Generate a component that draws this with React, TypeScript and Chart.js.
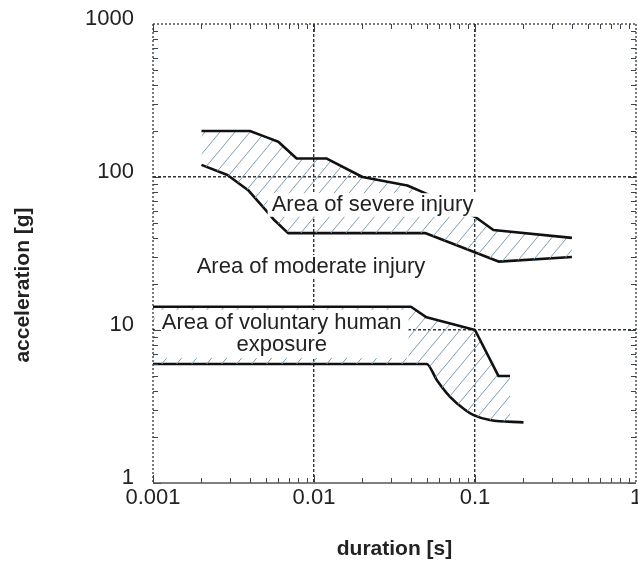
import React, { useEffect, useRef } from 'react';
import { Chart, registerables } from 'chart.js';

Chart.register(...registerables);

// ---- data ----
const xTickValues = [0.001, 0.01, 0.1, 1];
const yTickValues = [1, 10, 100, 1000];

const severeUpperX = [0.002, 0.004, 0.005, 0.006, 0.0078, 0.012, 0.02, 0.026, 0.038, 0.051, 0.1, 0.13, 0.4];
const severeUpperY = [200, 200, 183, 170, 132, 132, 100, 95, 88, 77, 55, 45, 40];

const severeLowerX = [0.002, 0.0029, 0.0039, 0.005, 0.0056, 0.0069, 0.049, 0.14, 0.4];
const severeLowerY = [120, 103, 82, 61, 53, 43, 43, 28, 30];

const voluntaryUpperX = [0.001, 0.04, 0.05, 0.1, 0.14, 0.165];
const voluntaryUpperY = [14.2, 14.2, 12.1, 10, 5, 5];

const voluntaryLowerX = [0.001, 0.05, 0.058, 0.07, 0.087, 0.098, 0.124, 0.2];
const voluntaryLowerY = [6, 6, 4.7, 3.66, 3.0, 2.78, 2.58, 2.49];

const xTitle = 'duration [s]';
const yTitle = 'acceleration [g]';

const severeLabel = ['Area of severe injury'];
const moderateLabel = ['Area of moderate injury'];
const voluntaryLabel = ['Area of voluntary human', 'exposure'];

// ---- styling / placement ----
const FONT = "'Liberation Sans', Arial, Helvetica, sans-serif";
const LINE_COLOR = '#111111';
const TEXT_COLOR = '#222222';

const labelPlacements = [
  { lines: severeLabel, x: 0.0231, y: 65.6, padX: 4, padY: 1 },
  { lines: moderateLabel, x: 0.00958, y: 25.9, padX: 4, padY: 1 },
  { lines: voluntaryLabel, x: 0.0063, y: 9.42, padX: 7, padY: 2.5 },
];

const toPoints = (xs: number[], ys: number[]) => xs.map((x, i) => ({ x, y: ys[i] }));

function makeHatch(): CanvasPattern | string {
  const w = 15;
  const h = 18;
  const c = document.createElement('canvas');
  c.width = w;
  c.height = h;
  const g = c.getContext('2d');
  if (!g) return 'rgba(120,150,170,0.3)';
  g.strokeStyle = '#7f9db0';
  g.lineWidth = 1;
  for (let k = -1; k <= 1; k++) {
    g.beginPath();
    g.moveTo(k * w, h);
    g.lineTo(k * w + w, 0);
    g.stroke();
  }
  return g.createPattern(c, 'repeat') || 'rgba(120,150,170,0.3)';
}

const labelsPlugin = {
  id: 'areaLabels',
  afterDatasetsDraw(chart: any) {
    const { ctx, scales } = chart;
    const xs = scales.x;
    const ys = scales.y;
    const size = 22;
    const lineH = size * 0.98;
    ctx.save();
    ctx.font = `${size}px ${FONT}`;
    ctx.textAlign = 'center';
    ctx.textBaseline = 'middle';
    for (const lab of labelPlacements) {
      const cx = xs.getPixelForValue(lab.x);
      const cy = ys.getPixelForValue(lab.y);
      const widths = lab.lines.map((t: string) => ctx.measureText(t).width);
      const w = Math.max(...widths);
      const h = lab.lines.length * lineH;
      ctx.fillStyle = '#ffffff';
      ctx.fillRect(cx - w / 2 - lab.padX, cy - h / 2 - lab.padY, w + 2 * lab.padX, h + 2 * lab.padY);
      ctx.fillStyle = TEXT_COLOR;
      lab.lines.forEach((t: string, i: number) => {
        ctx.fillText(t, cx, cy - h / 2 + lineH * (i + 0.5));
      });
    }
    ctx.restore();
  },
};

const framePlugin = {
  id: 'frameTicks',
  afterDraw(chart: any) {
    const { ctx, chartArea: a, scales } = chart;
    const xs = scales.x;
    const ys = scales.y;
    ctx.save();
    const seg = (x1: number, y1: number, x2: number, y2: number) => {
      ctx.beginPath();
      ctx.moveTo(x1, y1);
      ctx.lineTo(x2, y2);
      ctx.stroke();
    };
    // inward tick marks
    ctx.strokeStyle = '#3a4552';
    ctx.lineWidth = 1;
    for (let e = -3; e < 0; e++) {
      for (let m = 1; m <= 9; m++) {
        const px = Math.round(xs.getPixelForValue(m * Math.pow(10, e))) + 0.5;
        const len = m === 1 ? 8 : 5;
        seg(px, a.bottom, px, a.bottom - len);
        seg(px, a.top, px, a.top + len);
      }
    }
    for (let e = 0; e < 3; e++) {
      for (let m = 1; m <= 9; m++) {
        const py = Math.round(ys.getPixelForValue(m * Math.pow(10, e))) + 0.5;
        const len = m === 1 ? 8 : 5;
        seg(a.left, py, a.left + len, py);
        seg(a.right, py, a.right - len, py);
      }
    }
    // frame
    ctx.strokeStyle = '#333333';
    ctx.lineWidth = 1.3;
    ctx.setLineDash([2, 2]);
    seg(a.left, a.top, a.right, a.top);
    seg(a.left, a.top, a.left, a.bottom);
    seg(a.right, a.top, a.right, a.bottom);
    ctx.setLineDash([]);
    ctx.strokeStyle = '#555555';
    seg(a.left, a.bottom, a.right, a.bottom);
    // y-axis title
    ctx.translate(23.5, 285);
    ctx.rotate(-Math.PI / 2);
    ctx.font = `bold 21px ${FONT}`;
    ctx.fillStyle = TEXT_COLOR;
    ctx.textAlign = 'center';
    ctx.textBaseline = 'middle';
    ctx.fillText(yTitle, 0, 0);
    ctx.restore();
  },
};

export default function App() {
  const ref = useRef<HTMLCanvasElement>(null);

  useEffect(() => {
    const canvas = ref.current;
    if (!canvas) return;
    const hatch = makeHatch();
    const lineStyle = {
      showLine: true,
      borderColor: LINE_COLOR,
      borderWidth: 2.6,
      pointRadius: 0,
      pointHoverRadius: 0,
      tension: 0,
      borderJoinStyle: 'round' as const,
    };
    const gridColor = (values: number[]) => (c: any) =>
      c.tick && values.includes(c.tick.value) ? '#333333' : 'rgba(0,0,0,0)';

    const chart = new Chart(canvas, {
      type: 'scatter',
      data: {
        datasets: [
          { ...lineStyle, label: 'severe upper', data: toPoints(severeUpperX, severeUpperY), fill: '+1', backgroundColor: hatch as any },
          { ...lineStyle, label: 'severe lower', data: toPoints(severeLowerX, severeLowerY), fill: false },
          { ...lineStyle, label: 'voluntary upper', data: toPoints(voluntaryUpperX, voluntaryUpperY), fill: '+1', backgroundColor: hatch as any },
          {
            ...lineStyle,
            label: 'voluntary lower',
            data: toPoints(voluntaryLowerX, voluntaryLowerY),
            fill: false,
            cubicInterpolationMode: 'monotone' as const,
          },
        ],
      },
      options: {
        animation: false,
        responsive: false,
        devicePixelRatio: 1,
        layout: { padding: { top: 24, right: 2, bottom: 0, left: 0 } },
        plugins: {
          legend: { display: false },
          tooltip: { enabled: false },
        },
        scales: {
          x: {
            type: 'logarithmic',
            min: 0.001,
            max: 1,
            afterBuildTicks: (s: any) => {
              s.ticks = xTickValues.map((v) => ({ value: v }));
            },
            afterFit: (s: any) => {
              s.height = 82;
              s.paddingLeft = 0;
              s.paddingRight = 0;
            },
            ticks: {
              callback: (v: any) => String(v),
              font: { family: FONT, size: 22 },
              color: TEXT_COLOR,
              padding: 2,
              maxRotation: 0,
              autoSkip: false,
            },
            grid: { color: gridColor([0.01, 0.1]), lineWidth: 1.4, drawTicks: false },
            border: { display: false, dash: [3, 2] },
            title: {
              display: true,
              text: xTitle,
              font: { family: FONT, size: 21, weight: 'bold' },
              color: TEXT_COLOR,
              padding: { top: 0, bottom: 3 },
            },
          },
          y: {
            type: 'logarithmic',
            min: 1,
            max: 1000,
            afterBuildTicks: (s: any) => {
              s.ticks = yTickValues.map((v) => ({ value: v }));
            },
            afterFit: (s: any) => {
              s.width = 153;
              s.paddingTop = 0;
              s.paddingBottom = 0;
            },
            ticks: {
              callback: (v: any) => String(v),
              font: { family: FONT, size: 22 },
              color: TEXT_COLOR,
              padding: 19,
              labelOffset: -5,
              autoSkip: false,
            },
            grid: { color: gridColor([10, 100]), lineWidth: 1.4, drawTicks: false },
            border: { display: false, dash: [3, 2] },
          },
        },
      } as any,
      plugins: [labelsPlugin, framePlugin],
    });
    return () => chart.destroy();
  }, []);

  return (
    <div style={{ position: 'absolute', left: 0, top: 0, width: 638, height: 565, background: '#ffffff' }}>
      <canvas ref={ref} width={638} height={565} style={{ display: 'block', width: 638, height: 565 }} />
    </div>
  );
}
